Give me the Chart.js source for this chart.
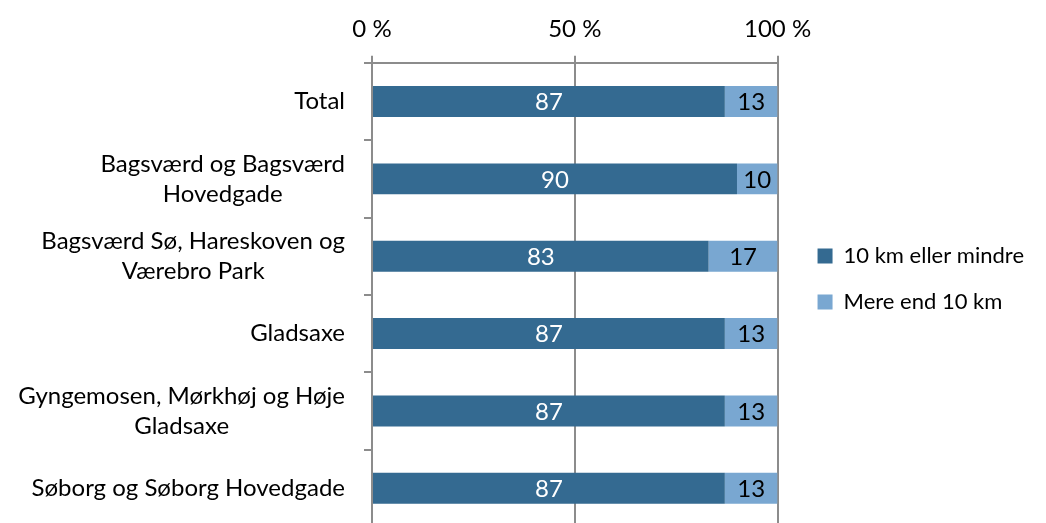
<!DOCTYPE html>
<html>
<head>
<meta charset="utf-8">
<script src="https://cdn.jsdelivr.net/npm/chart.js@4.4.0/dist/chart.umd.min.js"></script>
<style>
  html, body { margin: 0; padding: 0; background: #fff; overflow: hidden; }
  #wrap { position: relative; width: 1046px; height: 540px; }
</style>
</head>
<body>
<div id="wrap"><canvas id="afstandChart"></canvas></div>
<script>
// områder, hver linje i etiketten for sig
const omraader = [
    ['Total'],
    ['Bagsværd og Bagsværd', 'Hovedgade'],
    ['Bagsværd Sø, Hareskoven og', 'Værebro Park'],
    ['Gladsaxe'],
    ['Gyngemosen, Mørkhøj og Høje', 'Gladsaxe'],
    ['Søborg og Søborg Hovedgade']
];
const serieNavne = ['10 km eller mindre', 'Mere end 10 km'];
const under10km = [87, 90, 83, 87, 87, 87];
const over10km = [13, 10, 17, 13, 13, 13];
const procentTicks = [0, 50, 100];

const FONT = 'Lato, "Open Sans", sans-serif';
const GRAA = '#8c8c8c';

// kategori-etiketter: blokken højrestillet, linjerne centreret i blokken
const yEtiketter = {
    id: 'yEtiketter',
    afterDraw(chart) {
        const ctx = chart.ctx;
        const y = chart.scales.y;
        ctx.save();
        ctx.font = '24px ' + FONT;
        ctx.fillStyle = '#000';
        ctx.textAlign = 'center';
        ctx.textBaseline = 'middle';
        const hoejre = y.right - 27;
        const linjeHoejde = 30;
        omraader.forEach((linjer, i) => {
            const bredde = Math.max(...linjer.map(l => ctx.measureText(l).width));
            const cy = y.getPixelForValue(i);
            linjer.forEach((l, j) => {
                ctx.fillText(l, hoejre - bredde / 2, cy + (j - (linjer.length - 1) / 2) * linjeHoejde);
            });
        });
        ctx.restore();
    }
};

// tal midt i hver søjle
const soejleTal = {
    id: 'soejleTal',
    afterDatasetsDraw(chart) {
        const ctx = chart.ctx;
        ctx.save();
        ctx.font = '24px ' + FONT;
        ctx.textAlign = 'center';
        ctx.textBaseline = 'middle';
        chart.data.datasets.forEach((ds, di) => {
            const meta = chart.getDatasetMeta(di);
            meta.data.forEach((bar, i) => {
                const { x, y, base } = bar.getProps(['x', 'y', 'base'], true);
                ctx.fillStyle = di === 0 ? '#fff' : '#000';
                ctx.fillText(ds.data[i], (x + base) / 2, y + 1);
            });
        });
        ctx.restore();
    }
};

// forklaringen lidt længere væk fra plotområdet og lidt lavere
const flytForklaring = {
    id: 'flytForklaring',
    afterLayout(chart) {
        const lg = chart.legend;
        const dx = chart.chartArea.right + 40 - (lg.left + lg.options.labels.padding);
        lg.left += dx;
        lg.right += dx;
        lg.top += 14;
        lg.bottom += 14;
    }
};

new Chart(document.getElementById('afstandChart'), {
    type: 'bar',
    data: {
        labels: omraader.map(l => l.join(' ')),
        datasets: [{
            label: serieNavne[0],
            data: under10km,
            backgroundColor: '#346a91',
            borderWidth: 0
        }, {
            label: serieNavne[1],
            data: over10km,
            backgroundColor: '#79a7d1',
            borderWidth: 0
        }]
    },
    plugins: [yEtiketter, soejleTal, flytForklaring],
    options: {
        indexAxis: 'y',
        responsive: true,
        maintainAspectRatio: false,
        animation: false,
        barPercentage: 0.4,
        categoryPercentage: 1,
        layout: { padding: { top: 3, right: 28, bottom: 13, left: 0 } },
        plugins: {
            legend: {
                position: 'right',
                labels: {
                    boxWidth: 15,
                    boxHeight: 15,
                    padding: 24,
                    color: '#000',
                    font: { family: FONT, size: 22 }
                }
            },
            tooltip: { enabled: false }
        },
        scales: {
            x: {
                position: 'top',
                stacked: true,
                min: 0,
                max: 100,
                afterBuildTicks: s => { s.ticks = procentTicks.map(v => ({ value: v })); },
                ticks: {
                    callback: v => v + ' %',
                    color: '#000',
                    padding: 12,
                    maxRotation: 0,
                    font: { family: FONT, size: 24 }
                },
                grid: { color: GRAA, lineWidth: 2, tickLength: 7 },
                border: { color: GRAA, width: 2 }
            },
            y: {
                stacked: true,
                ticks: { display: false },
                grid: { drawOnChartArea: false, offset: true, color: GRAA, lineWidth: 2, tickLength: 8 },
                border: { color: GRAA, width: 2 },
                afterFit: s => { s.width = 372; }
            }
        }
    }
});
</script>
</body>
</html>
